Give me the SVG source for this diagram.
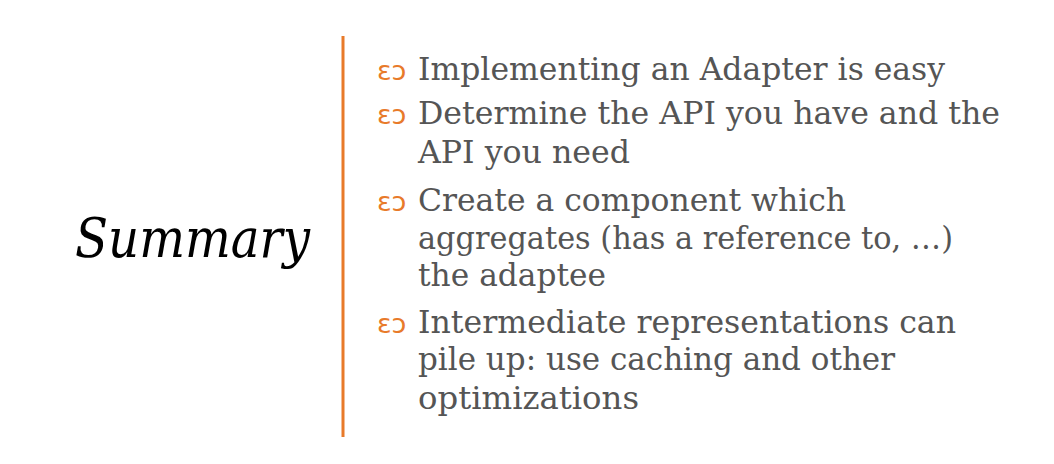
<svg xmlns="http://www.w3.org/2000/svg" width="1054" height="464" viewBox="0 0 1054 464">
<style>
.t{font-family:"DejaVu Serif","Liberation Serif",serif;font-size:32px;fill:#555}
.b{font-family:"DejaVu Sans","Noto Sans",sans-serif;font-size:27px;fill:#E87A2A}
.title{font-family:"DejaVu Serif","Liberation Serif",serif;font-style:italic;font-size:54px;fill:#000}
</style>
<rect width="1054" height="464" fill="#fff"/>
<g id="title"><text class="title" x="75" y="257" textLength="235" lengthAdjust="spacingAndGlyphs">Summary</text></g>
<g id="divider"><line x1="343" y1="36" x2="343" y2="437" stroke="#E87A2A" stroke-width="3"/></g>
<g id="bullet1">
<text class="b" x="377" y="80">ɛɔ</text>
<text class="t" x="418" y="80" textLength="527" lengthAdjust="spacingAndGlyphs">Implementing an Adapter is easy</text>
</g>
<g id="bullet2">
<text class="b" x="377" y="124">ɛɔ</text>
<text class="t" x="418" y="124" textLength="582" lengthAdjust="spacingAndGlyphs">Determine the API you have and the</text>
<text class="t" x="418" y="163" textLength="212" lengthAdjust="spacingAndGlyphs">API you need</text>
</g>
<g id="bullet3">
<text class="b" x="377" y="211">ɛɔ</text>
<text class="t" x="418" y="211" textLength="428" lengthAdjust="spacingAndGlyphs">Create a component which</text>
<text class="t" x="418" y="249" textLength="535" lengthAdjust="spacingAndGlyphs">aggregates (has a reference to, …)</text>
<text class="t" x="418" y="286" textLength="188" lengthAdjust="spacingAndGlyphs">the adaptee</text>
</g>
<g id="bullet4">
<text class="b" x="377" y="333">ɛɔ</text>
<text class="t" x="418" y="333" textLength="538" lengthAdjust="spacingAndGlyphs">Intermediate representations can</text>
<text class="t" x="418" y="370" textLength="477" lengthAdjust="spacingAndGlyphs">pile up: use caching and other</text>
<text class="t" x="418" y="409" textLength="221" lengthAdjust="spacingAndGlyphs">optimizations</text>
</g>
</svg>
